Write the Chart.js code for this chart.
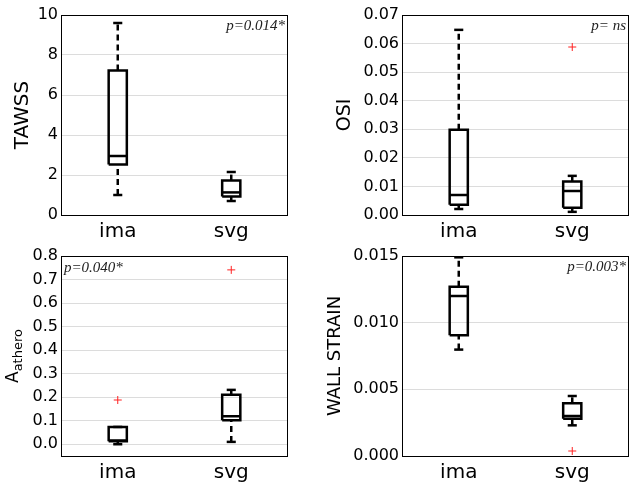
<!DOCTYPE html>
<html>
<head>
<meta charset="utf-8">
<script src="https://cdn.jsdelivr.net/npm/chart.js@4.4.1/dist/chart.umd.min.js"></script>
<style>
  html, body { margin: 0; padding: 0; background: #fff; }
  #wrap { position: relative; width: 639px; height: 489px; }
  canvas { position: absolute; }
</style>
</head>
<body>
<div id="wrap">
  <canvas id="cTawss" width="320" height="250" style="left:0;top:0"></canvas>
  <canvas id="cOsi" width="319" height="250" style="left:320px;top:0"></canvas>
  <canvas id="cAthero" width="320" height="248" style="left:0;top:241px"></canvas>
  <canvas id="cStrain" width="319" height="248" style="left:320px;top:241px"></canvas>
</div>
<script>
// กลุ่มที่เปรียบเทียบ
const groups = ['ima', 'svg'];

// สรุปห้าค่า: [whisker ล่าง, q1, median, q3, whisker บน]
const tawssIma = [1.0, 2.52, 2.95, 7.23, 9.6];
const tawssSvg = [0.7, 0.92, 1.13, 1.72, 2.15];
const tawssOut = [[], []];
const tawssTicks = [0, 2, 4, 6, 8, 10];

const osiIma = [0.0021, 0.0036, 0.0070, 0.0298, 0.0648];
const osiSvg = [0.0011, 0.0025, 0.0084, 0.0117, 0.0137];
const osiOut = [[], [0.0588]];
const osiTicks = [0, 0.01, 0.02, 0.03, 0.04, 0.05, 0.06, 0.07];

const atheroIma = [0.0, 0.013, 0.016, 0.0735, 0.0735];
const atheroSvg = [0.01, 0.102, 0.119, 0.21, 0.231];
const atheroOut = [[0.188], [0.741]];
const atheroTicks = [0, 0.1, 0.2, 0.3, 0.4, 0.5, 0.6, 0.7, 0.8];

const strainIma = [0.00798, 0.00905, 0.0120, 0.0127, 0.0149];
const strainSvg = [0.0023, 0.0028, 0.0030, 0.00395, 0.0045];
const strainOut = [[], [0.000375]];
const strainTicks = [0, 0.005, 0.010, 0.015];

const BOX_HALF = 0.08;
const CAP_HALF = 0.04;

function seg(points, dashed) {
  return {
    type: 'scatter',
    data: points.map(p => ({ x: p[0], y: p[1] })),
    showLine: true,
    borderColor: '#000',
    borderWidth: 2.5,
    borderDash: dashed ? [6, 4] : [],
    borderJoinStyle: 'miter',
    pointRadius: 0,
    fill: false,
    clip: 3
  };
}

function boxSets(stats, x) {
  const [lo, q1, med, q3, hi] = stats;
  const w = BOX_HALF, c = CAP_HALF;
  return [
    seg([[x, q3], [x, hi]], true),
    seg([[x, lo], [x, q1]], true),
    seg([[x - c, hi], [x + c, hi]]),
    seg([[x - c, lo], [x + c, lo]]),
    seg([[x - w, q1], [x + w, q1], [x + w, q3], [x - w, q3], [x - w, q1]]),
    seg([[x - w, med], [x + w, med]])
  ];
}

function makePanel(id, boxes, outs, ticks, yMin, yMax, dec, cfg) {
  let datasets = [];
  boxes.forEach((b, i) => { datasets = datasets.concat(boxSets(b, i + 1)); });
  const outPts = [];
  outs.forEach((arr, i) => arr.forEach(v => outPts.push({ x: i + 1, y: v })));
  datasets.push({
    type: 'scatter',
    data: outPts,
    pointStyle: 'cross',
    pointRadius: 4,
    borderColor: '#ff2020',
    borderWidth: 1,
    showLine: false
  });

  const decor = {
    id: 'decor',
    afterDraw(chart) {
      const { ctx, chartArea: a } = chart;
      ctx.save();
      // กรอบรอบพื้นที่กราฟ
      ctx.strokeStyle = '#000';
      ctx.lineWidth = 1;
      ctx.strokeRect(a.left + 0.5, a.top + 0.5, a.right - a.left - 1, a.bottom - a.top);
      // ค่า p
      ctx.fillStyle = '#222';
      ctx.font = 'italic 15px "Liberation Serif", "Times New Roman", serif';
      ctx.textBaseline = 'alphabetic';
      if (cfg.pSide === 'left') {
        ctx.textAlign = 'left';
        ctx.fillText(cfg.pText, a.left + 3, a.top + 16);
      } else {
        ctx.textAlign = 'right';
        ctx.fillText(cfg.pText, a.right - 3, a.top + 15);
      }
      // ชื่อแกน y
      const cy = (a.top + a.bottom) / 2;
      ctx.translate(cfg.titleX, cy);
      ctx.rotate(-Math.PI / 2);
      ctx.fillStyle = '#000';
      ctx.textBaseline = 'middle';
      if (cfg.sub) {
        ctx.font = cfg.titleFont + 'px "DejaVu Sans", sans-serif';
        const w1 = ctx.measureText(cfg.title).width;
        ctx.font = cfg.subFont + 'px "DejaVu Sans", sans-serif';
        const w2 = ctx.measureText(cfg.sub).width;
        const x0 = -(w1 + w2) / 2;
        ctx.textAlign = 'left';
        ctx.font = cfg.titleFont + 'px "DejaVu Sans", sans-serif';
        ctx.fillText(cfg.title, x0, 0);
        ctx.font = cfg.subFont + 'px "DejaVu Sans", sans-serif';
        ctx.fillText(cfg.sub, x0 + w1, 5);
      } else {
        ctx.textAlign = 'center';
        ctx.font = cfg.titleFont + 'px "DejaVu Sans", sans-serif';
        ctx.fillText(cfg.title, 0, 0);
      }
      ctx.restore();
    }
  };

  return new Chart(document.getElementById(id), {
    type: 'scatter',
    data: { datasets },
    options: {
      responsive: false,
      animation: false,
      layout: { autoPadding: false, padding: { top: 15, right: cfg.padRight, left: 0, bottom: 0 } },
      plugins: { legend: { display: false }, tooltip: { enabled: false } },
      scales: {
        x: {
          type: 'linear', min: 0.5, max: 2.5,
          afterBuildTicks: s => { s.ticks = groups.map((g, i) => ({ value: i + 1 })); },
          afterFit: s => { s.height = cfg.xHeight; },
          grid: { display: false },
          border: { display: false },
          ticks: {
            callback: v => groups[v - 1],
            color: '#000', padding: -3,
            font: { family: '"DejaVu Sans", sans-serif', size: 20 }
          }
        },
        y: {
          min: yMin, max: yMax,
          afterBuildTicks: s => { s.ticks = ticks.map(v => ({ value: v })); },
          afterFit: s => { s.width = cfg.yWidth; },
          grid: { color: '#dcdcdc', lineWidth: 1, drawTicks: false },
          border: { display: false },
          ticks: {
            callback: v => v.toFixed(dec),
            color: '#000', padding: 3,
            font: { family: '"DejaVu Sans", sans-serif', size: 16 }
          }
        }
      }
    },
    plugins: [decor]
  });
}

makePanel('cTawss', [tawssIma, tawssSvg], tawssOut, tawssTicks, 0, 10, 0,
  { pText: 'p=0.014*', pSide: 'right', title: 'TAWSS', titleFont: 20, titleX: 23,
    padRight: 32, yWidth: 61, xHeight: 35 });

makePanel('cOsi', [osiIma, osiSvg], osiOut, osiTicks, 0, 0.07, 2,
  { pText: 'p= ns', pSide: 'right', title: 'OSI', titleFont: 19, titleX: 25,
    padRight: 10, yWidth: 82, xHeight: 35 });

makePanel('cAthero', [atheroIma, atheroSvg], atheroOut, atheroTicks, -0.05, 0.8, 1,
  { pText: 'p=0.040*', pSide: 'left', title: 'A', sub: 'athero', titleFont: 17, subFont: 13, titleX: 14,
    padRight: 32, yWidth: 61, xHeight: 33 });

makePanel('cStrain', [strainIma, strainSvg], strainOut, strainTicks, 0, 0.015, 3,
  { pText: 'p=0.003*', pSide: 'right', title: 'WALL STRAIN', titleFont: 18, titleX: 15,
    padRight: 10, yWidth: 82, xHeight: 33 });
</script>
</body>
</html>
